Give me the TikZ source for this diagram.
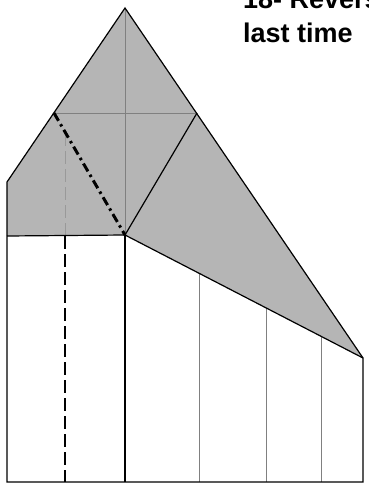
\documentclass[tikz,border=0pt]{standalone}
\usepackage{fontspec}
\setmainfont{Liberation Sans}
\begin{document}
\begin{tikzpicture}[x=1pt,y=-1pt,
  edge/.style={black,line width=1.2pt},
  crease/.style={gray,line width=0.8pt},
  mdash/.style={black,line width=1.4pt,dash pattern=on 13pt off 5pt},
  gdash/.style={gray!80,line width=1pt,dash pattern=on 13pt off 5pt},
  dashdot/.style={black,line width=3pt,dash pattern=on 9pt off 4pt on 2.5pt off 4pt},
  label/.style={anchor=base west,inner sep=0pt,font=\fontsize{27}{34}\selectfont\bfseries,align=left}]
\useasboundingbox (0,0) rectangle (368,487);
\clip (0,0) rectangle (368,487);
\fill[white] (0,0) rectangle (368,487);
% key points
\coordinate (A) at (125,8);     % apex
\coordinate (L) at (7,182);     % left corner
\coordinate (LB) at (7,236);    % left, level of P
\coordinate (P) at (125,235);   % centre point
\coordinate (R) at (363,358);   % right corner
\coordinate (BL) at (7,482);
\coordinate (BR) at (363,482);
\coordinate (BC) at (125,482);
\coordinate (HL) at (54,113);
\coordinate (HR) at (197,113);
\coordinate (HC) at (125,113);
% grey flap
\fill[gray!58] (A) -- (L) -- (LB) -- (P) -- (R) -- cycle;
% grey creases on flap
\draw[crease] (A) -- (P);
\draw[crease] (HL) -- (HR);
\draw[gdash] (65,133) -- (65,236);
% lower grey verticals
\draw[crease] (199,273) -- (199,482);
\draw[crease] (266,308) -- (266,482);
\draw[crease] (321,337) -- (321,482);
% black dashed valley line
\draw[mdash] (65,236) -- (65,482);
% outline
\draw[edge] (A) -- (L) -- (BL) -- (BR) -- (R) -- cycle;
\draw[edge] (LB) -- (P) -- (R);
\draw[edge] (P) -- (BC);
\draw[edge] (P) -- (HR);
\draw[dashdot] (HL) -- (P);
% text (cut off at the top edge, as in the reference)
\node[label] (t1) at (243,9) {18- Reverse};
\node[label] (t2) at (243,43) {last time};
\end{tikzpicture}
\end{document}
